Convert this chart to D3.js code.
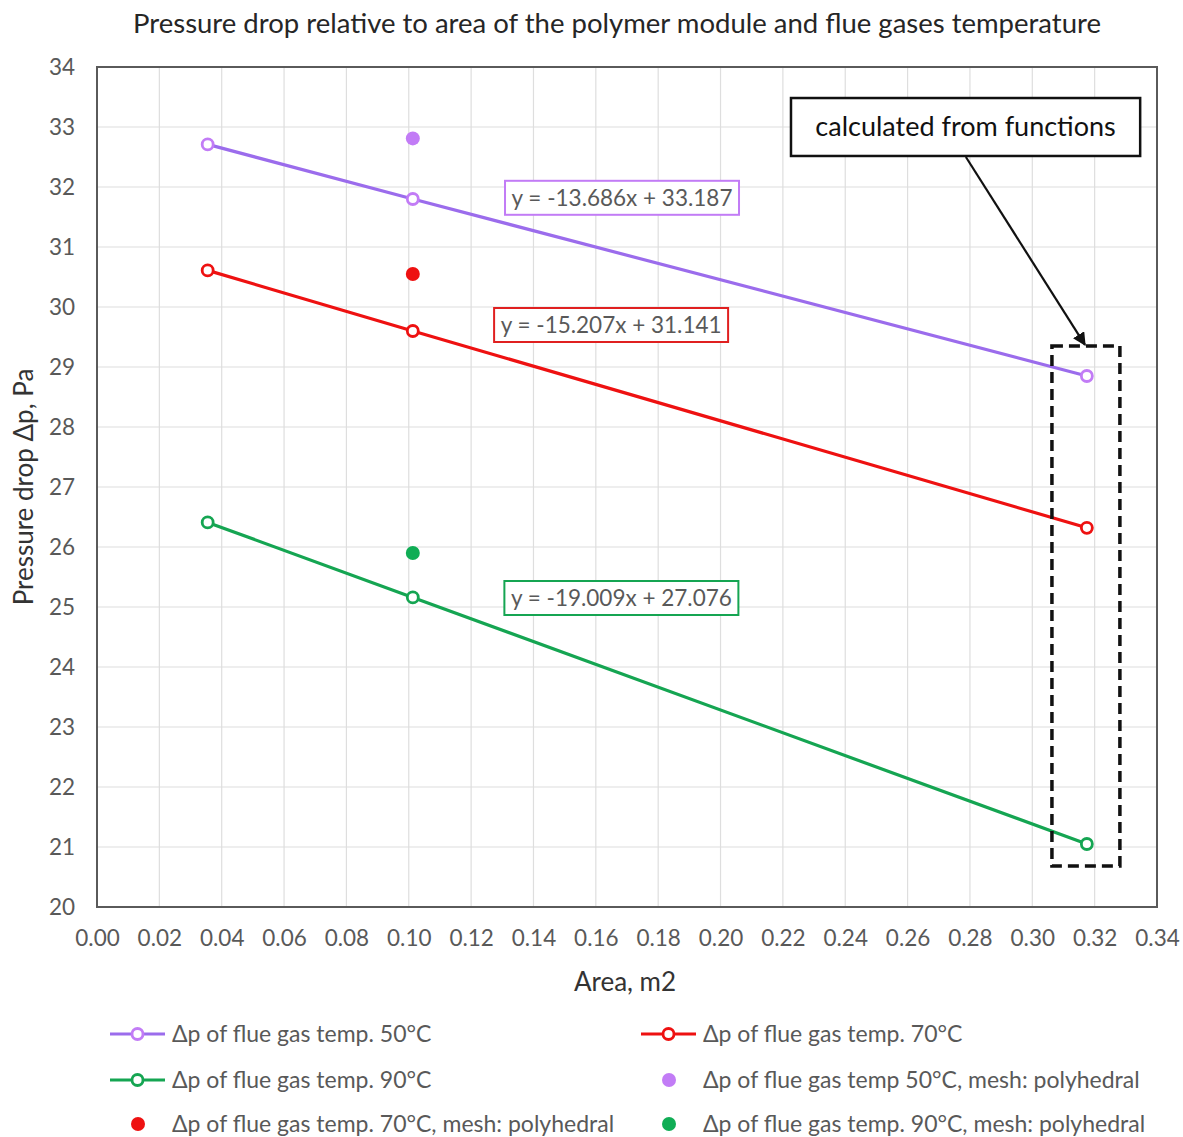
<!DOCTYPE html>
<html>
<head>
<meta charset="utf-8">
<script src="https://cdn.jsdelivr.net/npm/d3@7"></script>
<style>
  body { margin: 0; background: #fff; }
  text { font-family: Lato, "Open Sans", sans-serif; }
</style>
</head>
<body>
<svg id="chart" width="1183" height="1137"></svg>
<script>
// data
const areas = [0.0355, 0.1013, 0.3175];
const dp50 = [32.71, 31.80, 28.85];
const dp70 = [30.61, 29.60, 26.32];
const dp90 = [26.41, 25.16, 21.05];
const polyArea = 0.1013;
const poly50 = 32.81;
const poly70 = 30.55;
const poly90 = 25.90;
const equations = ["y = -13.686x + 33.187", "y = -15.207x + 31.141", "y = -19.009x + 27.076"];
const eqPos = [[0.1684, 31.82], [0.1649, 29.70], [0.1682, 25.15]];
const xTicks = d3.range(0, 0.3401, 0.02);
const yTicks = d3.range(20, 34.01, 1);

const svg = d3.select("#chart");
const plotLeft = 97, plotRight = 1157, plotTop = 67, plotBottom = 907;

const x = d3.scaleLinear().domain([0, 0.34]).range([plotLeft, plotRight]);
const y = d3.scaleLinear().domain([20, 34]).range([plotBottom, plotTop]);

const purpleLine = "#9b6cec", purpleMark = "#c27cf6";
const red = "#ee1111", green = "#15a552", greenDot = "#10ad55";
const textGray = "#595959";

// title
svg.append("text")
  .attr("x", 617).attr("y", 33)
  .attr("text-anchor", "middle")
  .style("font-size", "27.5px")
  .style("fill", "#262626")
  .text("Pressure drop relative to area of the polymer module and flue gases temperature");

// grid
svg.append("g").selectAll("line").data(xTicks).join("line")
  .attr("x1", d => x(d)).attr("x2", d => x(d))
  .attr("y1", plotTop).attr("y2", plotBottom)
  .attr("stroke", "#dedede").attr("stroke-width", 1.2);
svg.append("g").selectAll("line").data(yTicks).join("line")
  .attr("x1", plotLeft).attr("x2", plotRight)
  .attr("y1", d => y(d)).attr("y2", d => y(d))
  .attr("stroke", "#dedede").attr("stroke-width", 1.2);

// axes
const xAxis = svg.append("g")
  .attr("transform", `translate(0,${plotBottom})`)
  .call(d3.axisBottom(x).tickValues(xTicks).tickFormat(d3.format(".2f")).tickSize(0).tickPadding(23));
const yAxis = svg.append("g")
  .attr("transform", `translate(${plotLeft},0)`)
  .call(d3.axisLeft(y).tickValues(yTicks).tickFormat(d3.format("d")).tickSize(0).tickPadding(22));
[xAxis, yAxis].forEach(g => {
  g.select(".domain").remove();
  g.selectAll("text").style("font-size", "22.5px").style("fill", textGray).style("font-family", "Lato, sans-serif");
});

// plot frame
svg.append("rect")
  .attr("x", plotLeft).attr("y", plotTop)
  .attr("width", plotRight - plotLeft).attr("height", plotBottom - plotTop)
  .attr("fill", "none").attr("stroke", "#5a5a5a").attr("stroke-width", 2);

// axis titles
svg.append("text")
  .attr("x", 625).attr("y", 991)
  .attr("text-anchor", "middle")
  .style("font-size", "26px").style("fill", "#333")
  .text("Area, m2");
svg.append("text")
  .attr("transform", "translate(33,487) rotate(-90)")
  .attr("text-anchor", "middle")
  .style("font-size", "26px").style("fill", "#333")
  .text("Pressure drop \u0394p, Pa");

// series lines with open markers
const line = d3.line().x(d => x(d[0])).y(d => y(d[1]));
const series = [
  { vals: dp50, stroke: purpleLine, mark: purpleMark },
  { vals: dp70, stroke: red, mark: red },
  { vals: dp90, stroke: green, mark: green }
];
series.forEach(s => {
  const pts = areas.map((a, i) => [a, s.vals[i]]);
  svg.append("path")
    .datum(pts)
    .attr("d", line)
    .attr("fill", "none")
    .attr("stroke", s.stroke)
    .attr("stroke-width", 3.2);
  svg.append("g").selectAll("circle").data(pts).join("circle")
    .attr("cx", d => x(d[0])).attr("cy", d => y(d[1]))
    .attr("r", 5.5)
    .attr("fill", "#fff")
    .attr("stroke", s.mark)
    .attr("stroke-width", 2.8);
});

// polyhedral mesh points
const polyPts = [[polyArea, poly50, purpleMark], [polyArea, poly70, red], [polyArea, poly90, greenDot]];
svg.append("g").selectAll("circle").data(polyPts).join("circle")
  .attr("cx", d => x(d[0])).attr("cy", d => y(d[1]))
  .attr("r", 7)
  .attr("fill", d => d[2]);

// trendline equation labels
const eqColors = [purpleMark, "#e02020", green];
equations.forEach((eq, i) => {
  const cx = x(eqPos[i][0]), cy = y(eqPos[i][1]);
  svg.append("rect")
    .attr("x", cx - 117).attr("y", cy - 17)
    .attr("width", 234).attr("height", 34)
    .attr("fill", "#fff")
    .attr("stroke", eqColors[i]).attr("stroke-width", 2);
  svg.append("text")
    .attr("x", cx).attr("y", cy + 8)
    .attr("text-anchor", "middle")
    .style("font-size", "22.5px").style("fill", textGray)
    .text(eq);
});

// "calculated from functions" callout
const boxX0 = x(0.2226), boxX1 = x(0.3346), boxY0 = y(33.483), boxY1 = y(32.517);
svg.append("rect")
  .attr("x", boxX0).attr("y", boxY0)
  .attr("width", boxX1 - boxX0).attr("height", boxY1 - boxY0)
  .attr("fill", "#fff").attr("stroke", "#111").attr("stroke-width", 2.5);
svg.append("text")
  .attr("x", (boxX0 + boxX1) / 2).attr("y", (boxY0 + boxY1) / 2 + 9)
  .attr("text-anchor", "middle")
  .style("font-size", "27px").style("fill", "#111")
  .text("calculated from functions");

svg.append("defs").append("marker")
  .attr("id", "arrow")
  .attr("viewBox", "0 0 10 10")
  .attr("refX", 9).attr("refY", 5)
  .attr("markerWidth", 6).attr("markerHeight", 6)
  .attr("orient", "auto")
  .append("path").attr("d", "M0,0 L10,5 L0,10 z").attr("fill", "#111");
svg.append("line")
  .attr("x1", x(0.2787)).attr("y1", y(32.5))
  .attr("x2", x(0.3169)).attr("y2", y(29.37))
  .attr("stroke", "#111").attr("stroke-width", 2.2)
  .attr("marker-end", "url(#arrow)");

// dashed frame around the calculated points
svg.append("rect")
  .attr("x", x(0.3063)).attr("y", y(29.35))
  .attr("width", x(0.3281) - x(0.3063)).attr("height", y(20.683) - y(29.35))
  .attr("fill", "none").attr("stroke", "#111")
  .attr("stroke-width", 3.5).attr("stroke-dasharray", "11,6");

// legend
const legendItems = [
  { label: "\u0394p of flue gas temp. 50\u00B0C", kind: "line", stroke: purpleLine, mark: purpleMark, x: 110, y: 1034 },
  { label: "\u0394p of flue gas temp. 70\u00B0C", kind: "line", stroke: red, mark: red, x: 641, y: 1034 },
  { label: "\u0394p of flue gas temp. 90\u00B0C", kind: "line", stroke: green, mark: green, x: 110, y: 1080 },
  { label: "\u0394p of flue gas temp 50\u00B0C, mesh: polyhedral", kind: "dot", mark: purpleMark, x: 641, y: 1080 },
  { label: "\u0394p of flue gas temp. 70\u00B0C, mesh: polyhedral", kind: "dot", mark: red, x: 110, y: 1124 },
  { label: "\u0394p of flue gas temp. 90\u00B0C, mesh: polyhedral", kind: "dot", mark: greenDot, x: 641, y: 1124 }
];
const lg = svg.append("g").selectAll("g").data(legendItems).join("g")
  .attr("transform", d => `translate(${d.x},${d.y})`);
lg.filter(d => d.kind === "line").append("line")
  .attr("x1", 0).attr("x2", 55).attr("y1", 0).attr("y2", 0)
  .attr("stroke", d => d.stroke).attr("stroke-width", 3.2);
lg.filter(d => d.kind === "line").append("circle")
  .attr("cx", 27.5).attr("cy", 0).attr("r", 5.5)
  .attr("fill", "#fff").attr("stroke", d => d.mark).attr("stroke-width", 2.8);
lg.filter(d => d.kind === "dot").append("circle")
  .attr("cx", 28).attr("cy", 0).attr("r", 7)
  .attr("fill", d => d.mark);
lg.append("text")
  .attr("x", 62).attr("y", 8)
  .style("font-size", "23px").style("fill", textGray)
  .text(d => d.label);
</script>
</body>
</html>
